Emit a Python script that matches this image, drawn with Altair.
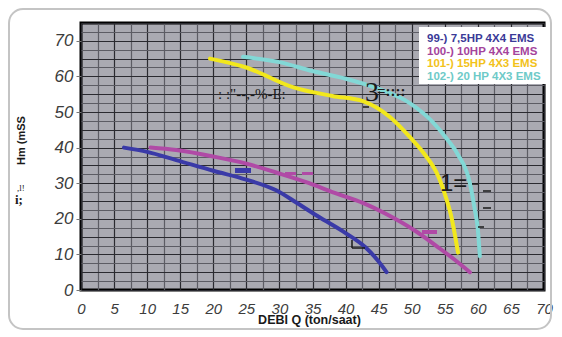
import altair as alt
import pandas as pd

# ---------------- data ----------------
series = ["99-) 7,5HP 4X4 EMS", "100-) 10HP 4X4 EMS", "101-) 15HP 4X3 EMS", "102-) 20 HP 4X3 EMS"]
line_colors = ["#3a3aa8", "#b04aa6", "#f2e81c", "#82d8d6"]
label_colors = ["#3a3a98", "#a4449c", "#f2c21a", "#6ecac8"]

q_99 = [6.5, 10, 14.4, 20, 25, 29.5, 32.6, 36, 40, 43, 45, 46.2]
h_99 = [40, 38.8, 36.5, 33.5, 31, 28, 24.5, 20.5, 16, 12, 8, 5]

q_100 = [10.5, 14.4, 20, 25, 29.5, 34.5, 38, 42.7, 46, 50.8, 54, 56.5, 58.8]
h_100 = [40, 39.3, 37.5, 35.5, 33, 30, 27.5, 24.4, 21.5, 16.3, 12, 8.5, 5]

q_101 = [19.5, 25, 32, 38, 42.7, 46.7, 49.7, 52, 54, 55, 56, 57]
h_101 = [65, 62.5, 57, 54.5, 53, 48.6, 43, 38, 32, 27, 20.5, 10.5]

q_102 = [24.5, 30, 35, 39.7, 45, 49.7, 53, 55.5, 57, 58.8, 59.5, 60, 60.3]
h_102 = [65.5, 64, 61.5, 59.5, 56.5, 52.5, 47.5, 42, 38, 30, 23, 17, 9.5]

x_title = "DEBI  Q (ton/saat)"
y_title = "Hm (mSS"

# ---------------- table ----------------
rows = []
for name, qs, hs in zip(series, [q_99, q_100, q_101, q_102], [h_99, h_100, h_101, h_102]):
    for i, (q, h) in enumerate(zip(qs, hs)):
        rows.append({"series": name, "q": q, "h": h, "order": i})
df = pd.DataFrame(rows)
legend_df = pd.DataFrame({"series": series, "lc": label_colors, "idx": list(range(len(series)))})

# grid positions (every 2.5 units)
x_grid = [i * 2.5 for i in range(29)]
y_grid = [i * 2.5 for i in range(31)]

lbl_font = "Liberation Sans, Arial, Helvetica, sans-serif"
serif = "Liberation Serif, Times New Roman, serif"

x_axis = alt.Axis(
    values=x_grid,
    labelExpr="datum.value % 5 == 0 ? datum.label : ''",
    labelOverlap=False, labelFlush=False,
    labelFont=lbl_font, labelFontStyle="italic", labelFontSize=15, labelColor="#3c3c3c",
    labelPadding=11, ticks=False, domain=False,
    gridColor={"condition": {"test": "datum.value % 5 == 0", "value": "#2a2a30"}, "value": "#5c5c64"},
    gridWidth=1.2,
    title=x_title, titleFont=lbl_font, titleFontSize=12.5, titleFontWeight="bold",
    titleColor="#1a1a1a", titleX=228, titleY=29, titleBaseline="middle", titleAnchor="start",
    titleAlign="center",
)
y_axis = alt.Axis(
    values=y_grid,
    labelExpr="datum.value % 10 == 0 ? datum.label : ''",
    labelOverlap=False, labelFlush=False,
    labelFont=lbl_font, labelFontStyle="italic", labelFontSize=17, labelColor="#3c3c3c",
    labelPadding=3, tickSize=5, tickColor="#777777",
    tickOpacity={"condition": {"test": "datum.value % 10 == 0", "value": 1}, "value": 0},
    domain=False,
    gridColor={"condition": {"test": "datum.value % 5 == 0", "value": "#2a2a30"}, "value": "#5c5c64"},
    gridWidth=1.1,
    title=y_title, titleFont=lbl_font, titleFontSize=11, titleFontWeight="bold",
    titleColor="#1a1a1a", titleX=-60, titleY=117, titleAngle=270,
    titleAlign="center", titleBaseline="middle", titleAnchor="start",
)

lines = alt.Chart(df).mark_line(strokeWidth=4, interpolate="monotone", strokeCap="round").encode(
    x=alt.X("q:Q", scale=alt.Scale(domain=[0, 70], nice=False, zero=False), axis=x_axis),
    y=alt.Y("h:Q", scale=alt.Scale(domain=[0, 75], nice=False, zero=False), axis=y_axis),
    color=alt.Color("series:N", scale=alt.Scale(domain=series, range=line_colors), legend=None),
    detail="series:N",
    order="order:Q",
)

one = alt.Data(values=[{"k": 1}])

legend_box = alt.Chart(one).mark_rect(fill="white").encode(
    x=alt.value(338), x2=alt.value(475), y=alt.value(4), y2=alt.value(61)
)
legend_text = alt.Chart(legend_df).mark_text(
    font=lbl_font, fontSize=11.5, fontWeight="bold", align="left", baseline="middle"
).transform_calculate(
    lx="346", ly="16 + datum.idx * 12.7"
).encode(
    x=alt.X("lx:Q", scale=None, axis=None),
    y=alt.Y("ly:Q", scale=None, axis=None),
    text="series:N",
    fill=alt.Fill("lc:N", scale=None),
)

frame = alt.Chart(one).mark_rect(
    fillOpacity=0, stroke="#c4c4c4", strokeWidth=2, cornerRadius=14
).encode(x=alt.value(-72), x2=alt.value(470), y=alt.value(-14), y2=alt.value(306))

def note(text, x, y, size, font=serif, weight="normal", color="#1a1a1a"):
    return alt.Chart(one).mark_text(
        text=text, font=font, fontSize=size, fontWeight=weight, color=color,
        align="left", baseline="alphabetic"
    ).encode(x=alt.value(x), y=alt.value(y))

def dash(x1, x2, y1, y2, color, w):
    return alt.Chart(one).mark_rule(color=color, strokeWidth=w).encode(
        x=alt.value(x1), x2=alt.value(x2), y=alt.value(y1), y2=alt.value(y2)
    )

notes = [
    note(': :"--,-%-E:', 137, 76, 15),
    note("3", 284, 78, 28),
    note("=::::", 296, 73, 15, weight="bold"),
    note("1=", 359, 168, 24, font=lbl_font),
    note(",l!", -64, 168, 9),
    note("i;", -66, 181, 13, weight="bold"),
]

marks = [
    dash(154, 170, 147.5, 147.5, "#3a3aa8", 5),
    dash(204, 215, 150.5, 150.5, "#b04aa6", 3),
    dash(221, 232, 150.5, 150.5, "#b04aa6", 3),
    dash(341, 356, 209, 209, "#b04aa6", 4),
    dash(391, 397, 161, 161, "#1a1a1a", 1.5),
    dash(402, 410, 168, 168, "#1a1a1a", 1.5),
    dash(402, 410, 185, 185, "#1a1a1a", 1.5),
    dash(397, 403, 204, 204, "#1a1a1a", 1.5),
    dash(282, 288, 84, 84, "#1a1a1a", 1.5),
    dash(271, 271, 217, 225, "#1a1a1a", 1.5),
    dash(271, 284, 225, 225, "#1a1a1a", 1.5),
]

chart = alt.layer(lines, *marks, *notes, legend_box, legend_text, frame).properties(
    width=463, height=267,
    padding={"left": 73, "top": 15, "right": 10, "bottom": 42},
    autosize=alt.AutoSizeParams(type="none"),
    background="white",
).configure_view(
    fill="#aaaab2", stroke="black", strokeWidth=3
)

chart.save("out.html", embed_options={"renderer": "svg", "actions": False})
